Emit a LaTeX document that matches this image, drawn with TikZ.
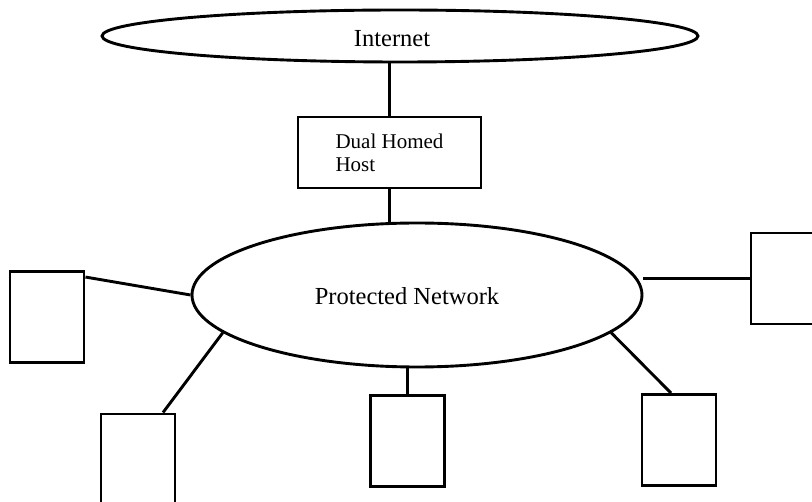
\documentclass[tikz,border=0pt]{standalone}
\usepackage{fontspec}
\setmainfont{Liberation Serif}
\usetikzlibrary{shapes.geometric,positioning}

\begin{document}
\begin{tikzpicture}[x=1pt,y=-1pt,line width=2.9pt,
  net/.style={draw,ellipse,inner sep=0pt},
  lbl/.style={font=\fontsize{24.5}{28}\selectfont},
  hostbox/.style={draw,rectangle,inner sep=0pt,minimum width=74pt,minimum height=91pt}]
\useasboundingbox (0,0) rectangle (812,502);\clip (0,0) rectangle (812,502);
\node[net,minimum width=596pt,minimum height=52pt] (inet) at (400,36) {};\node[lbl] at (392,39) {Internet};
\node[draw,rectangle,minimum width=183pt,minimum height=71pt,align=left,font=\fontsize{21}{23}\selectfont] (dhh) at (389.5,152.5) {Dual Homed\\Host};
\node[net,minimum width=450pt,minimum height=144pt] (pn) at (417,295) {};\node[lbl] at (407,296) {Protected Network};
\node[hostbox] (lhost) at (47,317) {};\node[hostbox] (rhost) at (788,278.5) {};
\node[hostbox] (blhost) at (138,459.5) {};\node[hostbox] (bmhost) at (407.5,441) {};\node[hostbox] (brhost) at (679,440) {};
\draw (dhh.north) -- (dhh.north |- inet.south);\draw (dhh.south) -- (dhh.south |- pn.north);
\draw ([yshift=-7pt]lhost.north east) -- (pn.west);\draw (pn.east |- rhost) -- (rhost.west);
\draw (pn.191) -- ([xshift=25pt]blhost.north);\draw (bmhost.north |- pn.south) -- (bmhost.north);\draw (pn.349) -- ([xshift=-8pt]brhost.north);
\end{tikzpicture}
\end{document}
